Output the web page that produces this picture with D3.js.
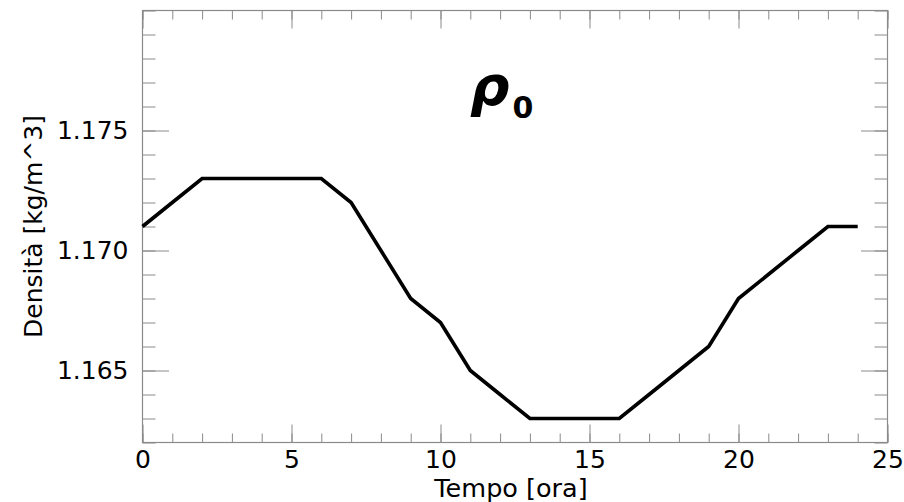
<!DOCTYPE html>
<html><head><meta charset="utf-8">
<script src="https://cdn.jsdelivr.net/npm/d3@7"></script>
<style>body{margin:0;background:#fff}svg{display:block}text{font-family:"DejaVu Sans",sans-serif}</style>
</head><body>
<svg id="c" width="904" height="502"></svg>
<script>
const hours = [0,1,2,3,4,5,6,7,8,9,10,11,12,13,14,15,16,17,18,19,20,21,22,23,24];
const density = [1.171,1.172,1.173,1.173,1.173,1.173,1.173,1.172,1.170,1.168,1.167,1.165,1.164,1.163,1.163,1.163,1.163,1.164,1.165,1.166,1.168,1.169,1.170,1.171,1.171];
const xMajor = [0,5,10,15,20,25];
const yMajor = [1.165,1.170,1.175];

const svg = d3.select("#c");
const L=142.5, R=887.5, T=10.5, B=442.5;
const x = d3.scaleLinear().domain([0,25]).range([L,R]);
const y = d3.scaleLinear().domain([1.162,1.180]).range([B,T]);
const axisCol = "#8a8a8a";

const xMinor = d3.range(0,26,1);
const yMinor = d3.range(1162,1181,1).map(v=>v/1000);
const g = svg.append("g");

// bottom axis
g.append("g").attr("transform",`translate(0,${B})`)
 .call(d3.axisBottom(x).tickValues(xMinor).tickSize(-9).tickFormat(""))
 .call(a=>a.select(".domain").remove());
g.append("g").attr("transform",`translate(0,${B})`)
 .call(d3.axisBottom(x).tickValues(xMajor).tickSize(-18).tickPadding(8).tickFormat(d3.format("d")))
 .call(a=>a.select(".domain").remove());
// top axis
g.append("g").attr("transform",`translate(0,${T})`)
 .call(d3.axisTop(x).tickValues(xMinor).tickSize(-9).tickFormat(""))
 .call(a=>a.select(".domain").remove());
g.append("g").attr("transform",`translate(0,${T})`)
 .call(d3.axisTop(x).tickValues(xMajor).tickSize(-18).tickFormat(""))
 .call(a=>a.select(".domain").remove());
// left axis
g.append("g").attr("transform",`translate(${L},0)`)
 .call(d3.axisLeft(y).tickValues(yMinor).tickSize(-13).tickFormat(""))
 .call(a=>a.select(".domain").remove());
g.append("g").attr("transform",`translate(${L},0)`)
 .call(d3.axisLeft(y).tickValues(yMajor).tickSize(-26.5).tickPadding(14).tickFormat(d3.format(".3f")))
 .call(a=>a.select(".domain").remove());
// right axis
g.append("g").attr("transform",`translate(${R},0)`)
 .call(d3.axisRight(y).tickValues(yMinor).tickSize(-13).tickFormat(""))
 .call(a=>a.select(".domain").remove());
g.append("g").attr("transform",`translate(${R},0)`)
 .call(d3.axisRight(y).tickValues(yMajor).tickSize(-26.5).tickFormat(""))
 .call(a=>a.select(".domain").remove());

g.selectAll(".tick line").attr("stroke",axisCol).attr("stroke-width",1);
g.selectAll("g").attr("font-size",25).attr("font-family","DejaVu Sans");
g.selectAll(".tick text").attr("fill","#000");

svg.append("rect").attr("x",L).attr("y",T).attr("width",R-L).attr("height",B-T)
 .attr("fill","none").attr("stroke",axisCol).attr("stroke-width",1.2);

const line = d3.line().x((d,i)=>x(hours[i])).y(d=>y(d));
svg.append("path").datum(density).attr("d",line)
 .attr("fill","none").attr("stroke","#000").attr("stroke-width",3.6).attr("stroke-linejoin","miter");

// titles
svg.append("text").attr("x",511).attr("y",497).attr("text-anchor","middle")
 .attr("font-size",25.5).text("Tempo [ora]");
svg.append("text").attr("transform",`translate(42,${(T+B)/2}) rotate(-90)`).attr("text-anchor","middle")
 .attr("font-size",25).text("Densità [kg/m^3]");

const t = svg.append("text").attr("x",470).attr("y",105).attr("font-weight","bold");
t.append("tspan").attr("font-style","italic").attr("font-size",55).text("ρ");
t.append("tspan").attr("dx",3).attr("dy",13).attr("font-size",30).text("0");
</script>
</body></html>
